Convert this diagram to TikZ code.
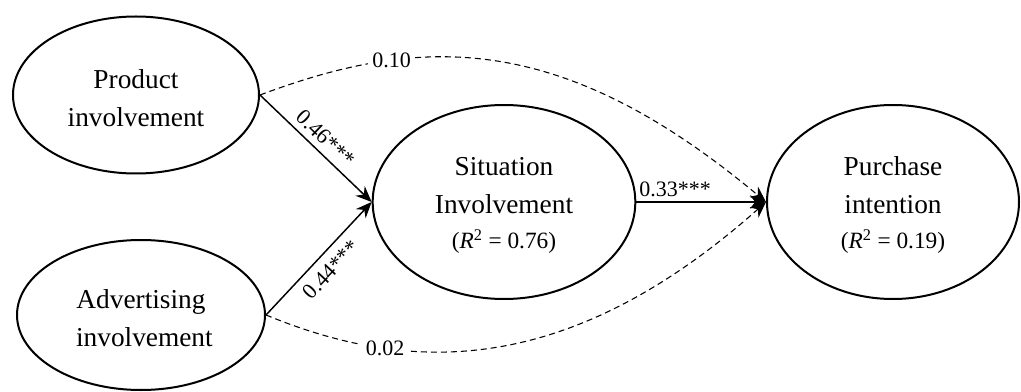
\documentclass[tikz,border=0pt]{standalone}
\usepackage{fontspec}
\setmainfont{Liberation Serif}
\usetikzlibrary{shapes.geometric,arrows.meta}

\begin{document}
\begin{tikzpicture}[x=0.75pt,y=-0.75pt,
  construct/.style={ellipse,draw,line width=1.5pt,align=center,inner sep=0pt,
    font=\fontsize{20.5}{28.5}\selectfont},
  effect/.style={line width=1.1pt,-{Stealth[length=12pt,width=10pt]}},
  direct/.style={line width=0.8pt,dash pattern=on 4.5pt off 3pt,-{Stealth[length=12pt,width=10pt]}},
  coef/.style={font=\fontsize{16.5}{18}\selectfont}]
  \useasboundingbox (0,0) rectangle (1021,392);
  % Konstrukte
  \node[construct,minimum width=184.5pt,minimum height=117.75pt] (prod) at (136,95)
    {\rule{0pt}{19pt}Product\\involvement};
  \node[construct,minimum width=186pt,minimum height=112.5pt] (adv) at (141,315)
    {\rule{0pt}{19pt}Advertising\\\ involvement};
  \node[construct,minimum width=197pt,minimum height=145.5pt] (sit) at (504,202)
    {\rule{0pt}{19pt}Situation\\Involvement\\[-2pt]{\fontsize{17.5}{20}\selectfont(\textit{R}\textsuperscript{2} = 0.76)}};
  \node[construct,minimum width=189pt,minimum height=145.5pt] (pur) at (893,202)
    {\rule{0pt}{19pt}Purchase\\intention\\[-2pt]{\fontsize{17.5}{20}\selectfont(\textit{R}\textsuperscript{2} = 0.19)}};
  % Pfade
  \draw[effect] (prod.east) -- node[coef,sloped,above=1pt]{0.46***} (sit.west);
  \draw[effect] (adv.east) -- node[coef,sloped,below=3pt]{0.44***} (sit.west);
  \draw[effect] (sit.east) -- node[coef,above,pos=0.3]{0.33***} (pur.west);
  % direkte Effekte (gestrichelt)
  \draw[direct] (prod.east) .. controls (420,35) and (560,30) ..
    node[coef,fill=white,pos=0.28]{0.10} (pur.west);
  \draw[direct] (adv.east) .. controls (400,370) and (560,385) ..
    node[coef,fill=white,pos=0.28]{0.02} (pur.west);
\end{tikzpicture}
\end{document}
